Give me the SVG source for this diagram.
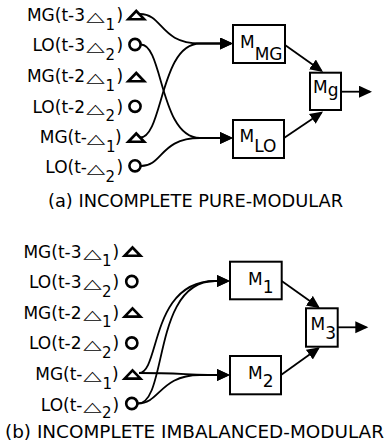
<svg xmlns="http://www.w3.org/2000/svg" width="385" height="448" viewBox="0 0 385 448">
<style>
.t{font-family:'DejaVu Sans',sans-serif;font-size:17px;fill:#000}
.s{font-size:15px}
.b{font-family:'DejaVu Sans',sans-serif;font-size:17px;fill:#000}
.cap{font-family:'DejaVu Sans',sans-serif;font-size:18px;fill:#000}
.tri{font-family:'DejaVu Sans',sans-serif;font-size:24px;fill:#000;text-anchor:middle}
.bx{fill:#fff;stroke:#000;stroke-width:2}
.ln{fill:none;stroke:#000;stroke-width:1.8}
.mk{fill:#fff;stroke:#000;stroke-width:2.6;stroke-linejoin:miter}
.ci{fill:#fff;stroke:#000;stroke-width:2.6}
</style>
<defs>
<marker id="ah" markerUnits="userSpaceOnUse" markerWidth="14" markerHeight="13" refX="11" refY="6" orient="auto">
<path d="M0,0 L13,6 L0,12 Z" fill="#000"/>
</marker>
</defs>

<g id="connectors">
<path class="ln" d="M140,14 C163,14 160,43.5 200,43.5 L231,43.5" marker-end="url(#ah)"/>
<path class="ln" d="M140,137.5 C163,137.5 160,43.5 200,43.5 L231,43.5" marker-end="url(#ah)"/>
<path class="ln" d="M141,44.5 C163,44.5 160,138 200,138 L231,138" marker-end="url(#ah)"/>
<path class="ln" d="M141,166 C163,166 160,138 200,138 L231,138" marker-end="url(#ah)"/>
<path class="ln" d="M285,45 L321.4,70.8" marker-end="url(#ah)"/>
<path class="ln" d="M284,138 L321.4,112.7" marker-end="url(#ah)"/>
<path class="ln" d="M341,91.7 L370,91.7" marker-end="url(#ah)"/>

<path class="ln" d="M139,373 C160,373 150,281 215,281 L228,281" marker-end="url(#ah)"/>
<path class="ln" d="M138,403.5 C168,403.5 152,281 215,281 L228,281" marker-end="url(#ah)"/>
<path class="ln" d="M139,373 C180,373 190,375 228,375" marker-end="url(#ah)"/>
<path class="ln" d="M138,403.5 C160,403.5 160,375 200,375 L228,375" marker-end="url(#ah)"/>
<path class="ln" d="M281.7,281 L318.3,307.1" marker-end="url(#ah)"/>
<path class="ln" d="M281,375 L318.3,348.3" marker-end="url(#ah)"/>
<path class="ln" d="M337.7,327.3 L366.3,327.3" marker-end="url(#ah)"/>
</g>

<!-- (a) inputs -->
<g id="a-in1">
<text class="t" y="21"><tspan x="85" text-anchor="end">MG(t-3</tspan><tspan class="s" x="105.5" y="29.5">1</tspan><tspan x="116.5" y="21">)</tspan></text>
<text class="tri" transform="translate(95.5,21) scale(1,0.55)">△</text>
<polygon class="mk" points="128.3,19.3 144.2,19.3 136.25,11"/>
</g>
<g id="a-in2">
<text class="t" y="51"><tspan x="85" text-anchor="end">LO(t-3</tspan><tspan class="s" x="105.5" y="59.5">2</tspan><tspan x="116.5" y="51">)</tspan></text>
<text class="tri" transform="translate(95.5,51) scale(1,0.55)">△</text>
<circle class="ci" cx="135" cy="44.5" r="5.6"/>
</g>
<g id="a-in3">
<text class="t" y="82"><tspan x="85" text-anchor="end">MG(t-2</tspan><tspan class="s" x="105.5" y="90.5">1</tspan><tspan x="116.5" y="82">)</tspan></text>
<text class="tri" transform="translate(95.5,82) scale(1,0.55)">△</text>
<polygon class="mk" points="128.3,81.3 144.2,81.3 136.25,73"/>
</g>
<g id="a-in4">
<text class="t" y="112.5"><tspan x="85" text-anchor="end">LO(t-2</tspan><tspan class="s" x="105.5" y="121">2</tspan><tspan x="116.5" y="112.5">)</tspan></text>
<text class="tri" transform="translate(95.5,112.5) scale(1,0.55)">△</text>
<circle class="ci" cx="135" cy="106.3" r="5.6"/>
</g>
<g id="a-in5">
<text class="t" y="143"><tspan x="87" text-anchor="end">MG(t-</tspan><tspan class="s" x="106" y="151.5">1</tspan><tspan x="115" y="143">)</tspan></text>
<text class="tri" transform="translate(96,143) scale(1,0.55)">△</text>
<polygon class="mk" points="128.3,141.8 144.2,141.8 136.25,133.5"/>
</g>
<g id="a-in6">
<text class="t" y="173"><tspan x="87" text-anchor="end">LO(t-</tspan><tspan class="s" x="105.5" y="181.5">2</tspan><tspan x="116.5" y="173">)</tspan></text>
<text class="tri" transform="translate(96,173) scale(1,0.55)">△</text>
<circle class="ci" cx="135" cy="165.8" r="5.6"/>
</g>

<g id="a-mmg">
<rect class="bx" x="233" y="25" width="52" height="38"/>
<text class="b" x="240" y="48.3">M<tspan dy="11.7">MG</tspan></text>
</g>
<g id="a-mlo">
<rect class="bx" x="233" y="120" width="51" height="38"/>
<text class="b" x="239.5" y="141.7">M<tspan dy="10">LO</tspan></text>
</g>
<g id="a-mg">
<rect class="bx" x="310" y="72.7" width="31" height="37.3"/>
<text class="b" x="313" y="92.7">M<tspan dy="3.2">g</tspan></text>
</g>
<text id="cap-a" class="cap" x="48" y="206.5" textLength="295" lengthAdjust="spacingAndGlyphs">(a) INCOMPLETE PURE-MODULAR</text>

<!-- (b) inputs -->
<g id="b-in1">
<text class="t" y="257.5"><tspan x="81.5" text-anchor="end">MG(t-3</tspan><tspan class="s" x="102" y="266">1</tspan><tspan x="112.5" y="257.5">)</tspan></text>
<text class="tri" transform="translate(92.5,257.5) scale(1,0.55)">△</text>
<polygon class="mk" points="124.6,255.8 140.5,255.8 132.5,247.5"/>
</g>
<g id="b-in2">
<text class="t" y="288"><tspan x="81.5" text-anchor="end">LO(t-3</tspan><tspan class="s" x="102" y="296.5">2</tspan><tspan x="112.5" y="288">)</tspan></text>
<text class="tri" transform="translate(92.5,288) scale(1,0.55)">△</text>
<circle class="ci" cx="131.8" cy="281.5" r="5.6"/>
</g>
<g id="b-in3">
<text class="t" y="318.5"><tspan x="81.5" text-anchor="end">MG(t-2</tspan><tspan class="s" x="102" y="327">1</tspan><tspan x="112.5" y="318.5">)</tspan></text>
<text class="tri" transform="translate(92.5,318.5) scale(1,0.55)">△</text>
<polygon class="mk" points="124.6,316.6 140.5,316.6 132.5,308.3"/>
</g>
<g id="b-in4">
<text class="t" y="349"><tspan x="81.5" text-anchor="end">LO(t-2</tspan><tspan class="s" x="102" y="357.5">2</tspan><tspan x="112.5" y="349">)</tspan></text>
<text class="tri" transform="translate(92.5,349) scale(1,0.55)">△</text>
<circle class="ci" cx="131.8" cy="343" r="5.6"/>
</g>
<g id="b-in5">
<text class="t" y="380"><tspan x="82.5" text-anchor="end">MG(t-</tspan><tspan class="s" x="102.5" y="388.5">1</tspan><tspan x="112" y="380">)</tspan></text>
<text class="tri" transform="translate(92.5,380) scale(1,0.55)">△</text>
<polygon class="mk" points="124.6,378.6 140.5,378.6 132.5,370.3"/>
</g>
<g id="b-in6">
<text class="t" y="410.5"><tspan x="82.5" text-anchor="end">LO(t-</tspan><tspan class="s" x="102" y="418">2</tspan><tspan x="112.5" y="410.5">)</tspan></text>
<text class="tri" transform="translate(92.5,410.5) scale(1,0.55)">△</text>
<circle class="ci" cx="131.8" cy="403.5" r="5.6"/>
</g>

<g id="b-m1">
<rect class="bx" x="230" y="261.7" width="51.7" height="37.6"/>
<text class="b" x="248" y="285">M<tspan dy="8.3">1</tspan></text>
</g>
<g id="b-m2">
<rect class="bx" x="230" y="356" width="51" height="38.3"/>
<text class="b" x="248" y="379.3">M<tspan dy="7.4">2</tspan></text>
</g>
<g id="b-m3">
<rect class="bx" x="306" y="308.3" width="31.7" height="38.4"/>
<text class="b" x="310.5" y="330">M<tspan dy="9">3</tspan></text>
</g>
<text id="cap-b" class="cap" x="5" y="438" textLength="379" lengthAdjust="spacingAndGlyphs">(b) INCOMPLETE IMBALANCED-MODULAR</text>
</svg>
